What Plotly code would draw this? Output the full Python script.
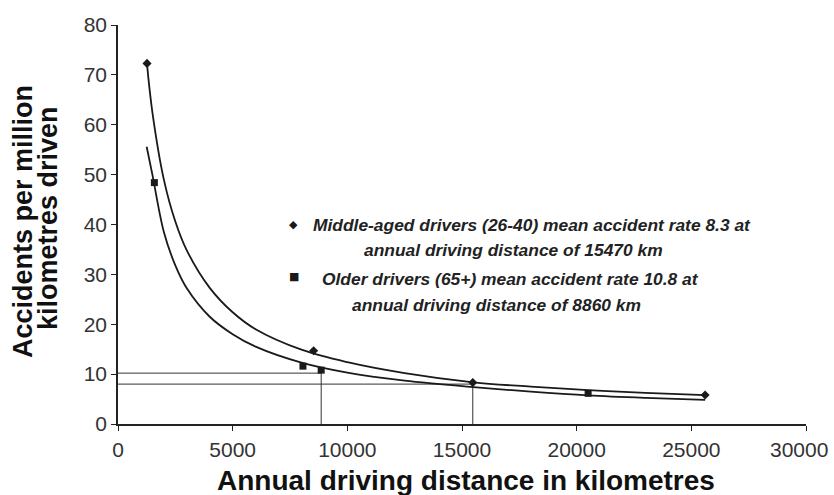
import plotly.graph_objects as go

# Observed data points
mid_x = [1266, 8530, 15470, 25600]
mid_y = [72.3, 14.7, 8.3, 5.8]
old_x = [1586, 8065, 8860, 20500]
old_y = [48.4, 11.6, 10.8, 6.15]

# Fitted trend curves
mid_curve_x = [1266, 1500, 2000, 2500, 3000, 4000, 5000, 6000, 8000, 10000, 12500, 15500, 18000, 20500, 23000, 25600]
mid_curve_y = [72.1, 62.5, 49.0, 40.6, 34.8, 27.3, 22.4, 19.0, 14.9, 12.4, 10.2, 8.35, 7.5, 6.8, 6.25, 5.8]
old_curve_x = [1250, 1500, 2000, 2500, 3000, 4000, 5000, 6000, 8000, 10000, 12500, 15500, 18000, 20500, 23000, 25600]
old_curve_y = [55.6, 50.0, 38.5, 31.8, 27.2, 21.5, 18.0, 15.5, 12.3, 10.3, 8.7, 7.4, 6.5, 5.75, 5.25, 4.85]

# Mean reference lines
old_mean_dist, old_mean_rate = 8860, 10.2
mid_mean_dist, mid_mean_rate = 15470, 8.0

x_ticks = [0, 5000, 10000, 15000, 20000, 25000, 30000]
y_ticks = [0, 10, 20, 30, 40, 50, 60, 70, 80]

legend_lines = [
    "Middle-aged drivers (26-40) mean accident rate 8.3 at",
    "annual driving distance of 15470 km",
    "Older drivers (65+) mean accident rate 10.8 at",
    "annual driving distance of 8860 km",
]

ink = "#1a1a1a"
fig = go.Figure()

ref_line = dict(color="#333", width=1)
fig.add_trace(go.Scatter(x=[0, old_mean_dist, old_mean_dist], y=[old_mean_rate, old_mean_rate, 0],
                         mode="lines", line=ref_line, hoverinfo="skip", showlegend=False))
fig.add_trace(go.Scatter(x=[0, mid_mean_dist, mid_mean_dist], y=[mid_mean_rate, mid_mean_rate, 0],
                         mode="lines", line=ref_line, hoverinfo="skip", showlegend=False))
fig.add_trace(go.Scatter(x=[old_mean_dist, old_mean_dist], y=[old_mean_rate, 10.5],
                         mode="lines", line=ref_line, hoverinfo="skip", showlegend=False))
fig.add_trace(go.Scatter(x=[mid_mean_dist, mid_mean_dist], y=[mid_mean_rate, 8.3],
                         mode="lines", line=ref_line, hoverinfo="skip", showlegend=False))

# curves
fig.add_trace(go.Scatter(x=mid_curve_x, y=mid_curve_y, mode="lines",
                         line=dict(color=ink, width=1.8, shape="spline"), showlegend=False))
fig.add_trace(go.Scatter(x=old_curve_x, y=old_curve_y, mode="lines",
                         line=dict(color=ink, width=1.8, shape="spline"), showlegend=False))

# points
fig.add_trace(go.Scatter(x=mid_x, y=mid_y, mode="markers", marker=dict(symbol="diamond", size=7, color=ink),
                         cliponaxis=False, showlegend=False))
fig.add_trace(go.Scatter(x=old_x, y=old_y, mode="markers", marker=dict(symbol="square", size=7, color=ink),
                         cliponaxis=False, showlegend=False))

W, H = 834, 495
L, R, T, B = 118, 28, 25, 71
pw, ph = W - L - R, H - T - B


def px2paper(px, py):
    return (px - L) / pw, (H - B - py) / ph


font_leg = dict(family="Liberation Sans, Arial", size=17.4, color="#222")
anns = [
    (311, 225, legend_lines[0], "left"),
    (513, 250, legend_lines[1], "center"),
    (320, 279, legend_lines[2], "left"),
    (496, 305, legend_lines[3], "center"),
]
annotations = []
for ax_, ay_, txt, anc in anns:
    xp, yp = px2paper(ax_, ay_)
    annotations.append(dict(x=xp, y=yp, xref="paper", yref="paper", text="<b><i>" + txt + "</i></b>",
                            showarrow=False, xanchor=anc, yanchor="middle", font=font_leg))

sx, sy = px2paper(287, 224)
sx2, sy2 = px2paper(287, 276)
annotations.append(dict(x=sx, y=sy, xref="paper", yref="paper", text="◆", showarrow=False,
                        font=dict(family="DejaVu Sans", size=11, color=ink)))
annotations.append(dict(x=sx2, y=sy2, xref="paper", yref="paper", text="■", showarrow=False,
                        font=dict(family="DejaVu Sans", size=11, color=ink)))

# last x tick label (shifted inward to stay inside the page)
lx, ly = px2paper(799, 449)
annotations.append(dict(x=lx, y=ly, xref="paper", yref="paper", text=str(x_ticks[-1]), showarrow=False,
                        xanchor="center", yanchor="middle",
                        font=dict(family="Liberation Sans, Arial", size=21, color="#333")))

# axis titles
tx, ty = px2paper(466, 480)
annotations.append(dict(x=tx, y=ty, xref="paper", yref="paper", text="<b>Annual driving distance in kilometres</b>",
                        showarrow=False, xanchor="center", yanchor="middle",
                        font=dict(family="Liberation Sans, Arial", size=28, color="#111")))
y1x, y1y = px2paper(23, 222)
annotations.append(dict(x=y1x, y=y1y, xref="paper", yref="paper", text="<b>Accidents per million</b>",
                        showarrow=False, textangle=-90, xanchor="center", yanchor="middle",
                        font=dict(family="Liberation Sans, Arial", size=27, color="#111")))
y2x, y2y = px2paper(48, 218)
annotations.append(dict(x=y2x, y=y2y, xref="paper", yref="paper", text="<b>kilometres driven</b>",
                        showarrow=False, textangle=-90, xanchor="center", yanchor="middle",
                        font=dict(family="Liberation Sans, Arial", size=27, color="#111")))

fig.update_layout(
    width=W, height=H,
    margin=dict(l=L, r=R, t=T, b=B),
    paper_bgcolor="white", plot_bgcolor="white",
    annotations=annotations,
    showlegend=False,
)
fig.update_xaxes(range=[0, 30000], tickvals=x_ticks, ticktext=[str(v) for v in x_ticks[:-1]] + [""],
                 automargin=False,
                 showgrid=False, zeroline=False, showline=True, linecolor="#222", linewidth=1.5,
                 ticks="outside", ticklen=5, tickcolor="#222", tickwidth=1.2, ticklabelstandoff=1,
                 tickfont=dict(family="Liberation Sans, Arial", size=21, color="#333"))
fig.update_yaxes(range=[0, 80], tickvals=y_ticks, ticktext=[str(v) for v in y_ticks],
                 automargin=False,
                 showgrid=False, zeroline=False, showline=True, linecolor="#222", linewidth=1.5,
                 ticks="outside", ticklen=5, tickcolor="#222", tickwidth=1.2,
                 tickfont=dict(family="Liberation Sans, Arial", size=21, color="#333"))

fig.write_html("out.html", config={"displayModeBar": False},
               post_script="document.body.style.margin='0';document.body.style.overflow='hidden';")
